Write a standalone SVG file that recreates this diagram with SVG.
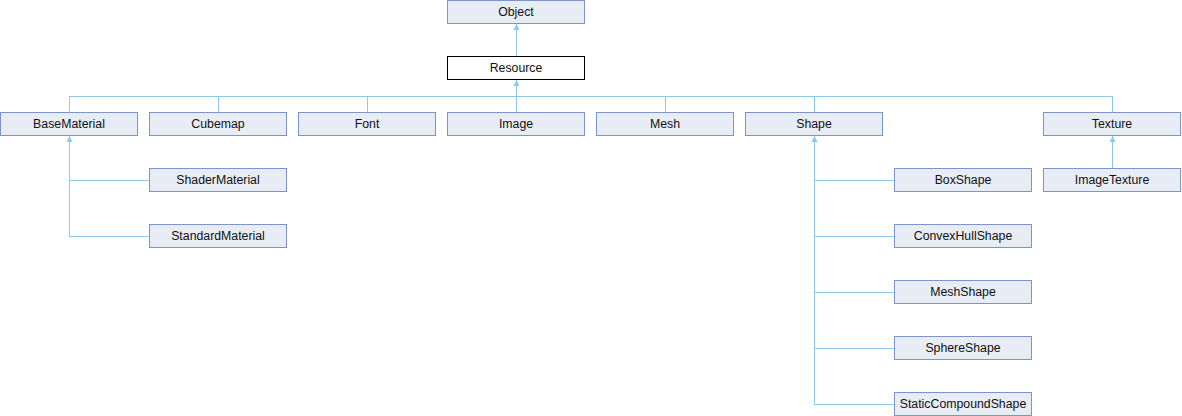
<svg xmlns="http://www.w3.org/2000/svg" xmlns:xlink="http://www.w3.org/1999/xlink" width="1182" height="416" viewBox="0 0 1182 416">
<style>
.n rect{fill:#e8ecf5;stroke:#7b95cb;stroke-width:1}
.n.cur rect{fill:#ffffff;stroke:#000000}
.n text{font-family:"Liberation Sans",Arial,sans-serif;font-size:12.3px;fill:#111;text-anchor:middle}
.c line{stroke:#90c8e8;stroke-width:1}
.c use{fill:#90c8e8}
</style>
<defs>
<path id="ah" d="M0,0 L-3,6 L3,6 Z"/>
</defs>
<rect width="1182" height="416" fill="#ffffff"/>
<g id="connectors" class="c">
<line x1="516.5" y1="24" x2="516.5" y2="56"/>
<use xlink:href="#ah" transform="translate(516.5,24)"/>
<line x1="516.5" y1="80" x2="516.5" y2="112"/>
<use xlink:href="#ah" transform="translate(516.5,80)"/>
<line x1="69" y1="96.5" x2="1113" y2="96.5"/>
<line x1="69.5" y1="96" x2="69.5" y2="112"/>
<line x1="218.5" y1="96" x2="218.5" y2="112"/>
<line x1="367.5" y1="96" x2="367.5" y2="112"/>
<line x1="665.5" y1="96" x2="665.5" y2="112"/>
<line x1="814.5" y1="96" x2="814.5" y2="112"/>
<line x1="1112.5" y1="96" x2="1112.5" y2="112"/>
<line x1="69.5" y1="136" x2="69.5" y2="237"/>
<use xlink:href="#ah" transform="translate(69.5,136)"/>
<line x1="69" y1="180.5" x2="149" y2="180.5"/>
<line x1="69" y1="236.5" x2="149" y2="236.5"/>
<line x1="814.5" y1="136" x2="814.5" y2="405"/>
<use xlink:href="#ah" transform="translate(814.5,136)"/>
<line x1="814" y1="180.5" x2="894" y2="180.5"/>
<line x1="814" y1="236.5" x2="894" y2="236.5"/>
<line x1="814" y1="292.5" x2="894" y2="292.5"/>
<line x1="814" y1="348.5" x2="894" y2="348.5"/>
<line x1="814" y1="404.5" x2="894" y2="404.5"/>
<line x1="1112.5" y1="136" x2="1112.5" y2="168"/>
<use xlink:href="#ah" transform="translate(1112.5,136)"/>
</g>
<g id="Object" class="n"><rect x="447.5" y="0.5" width="137" height="23"/><text x="516" y="16">Object</text></g>
<g id="Resource" class="n cur"><rect x="447.5" y="56.5" width="137" height="23"/><text x="516" y="72">Resource</text></g>
<g id="BaseMaterial" class="n"><rect x="0.5" y="112.5" width="137" height="23"/><text x="69" y="128">BaseMaterial</text></g>
<g id="Cubemap" class="n"><rect x="149.5" y="112.5" width="137" height="23"/><text x="218" y="128">Cubemap</text></g>
<g id="Font" class="n"><rect x="298.5" y="112.5" width="137" height="23"/><text x="367" y="128">Font</text></g>
<g id="Image" class="n"><rect x="447.5" y="112.5" width="137" height="23"/><text x="516" y="128">Image</text></g>
<g id="Mesh" class="n"><rect x="596.5" y="112.5" width="137" height="23"/><text x="665" y="128">Mesh</text></g>
<g id="Shape" class="n"><rect x="745.5" y="112.5" width="137" height="23"/><text x="814" y="128">Shape</text></g>
<g id="Texture" class="n"><rect x="1043.5" y="112.5" width="137" height="23"/><text x="1112" y="128">Texture</text></g>
<g id="ShaderMaterial" class="n"><rect x="149.5" y="168.5" width="137" height="23"/><text x="218" y="184">ShaderMaterial</text></g>
<g id="StandardMaterial" class="n"><rect x="149.5" y="224.5" width="137" height="23"/><text x="218" y="240">StandardMaterial</text></g>
<g id="BoxShape" class="n"><rect x="894.5" y="168.5" width="137" height="23"/><text x="963" y="184">BoxShape</text></g>
<g id="ConvexHullShape" class="n"><rect x="894.5" y="224.5" width="137" height="23"/><text x="963" y="240">ConvexHullShape</text></g>
<g id="MeshShape" class="n"><rect x="894.5" y="280.5" width="137" height="23"/><text x="963" y="296">MeshShape</text></g>
<g id="SphereShape" class="n"><rect x="894.5" y="336.5" width="137" height="23"/><text x="963" y="352">SphereShape</text></g>
<g id="StaticCompoundShape" class="n"><rect x="894.5" y="392.5" width="137" height="23"/><text x="963" y="408">StaticCompoundShape</text></g>
<g id="ImageTexture" class="n"><rect x="1043.5" y="168.5" width="137" height="23"/><text x="1112" y="184">ImageTexture</text></g>
</svg>
